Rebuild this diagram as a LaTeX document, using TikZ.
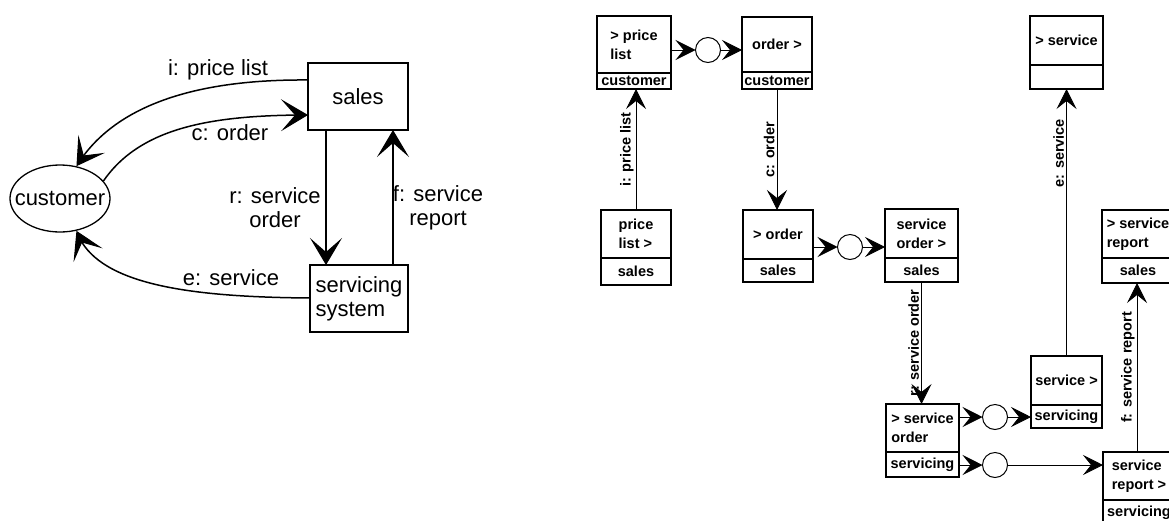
\documentclass[tikz,border=0pt]{standalone}
\usepackage{fontspec}
\setmainfont{Liberation Sans}
\usetikzlibrary{arrows.meta,bending,shapes.geometric}

\newcommand\lfont{\fontsize{22}{24}\selectfont}
\newcommand\rfont{\fontsize{14.5}{19}\selectfont\bfseries}

% two-part activity box: #1 name, #2 x, #3 y (top left), #4 width,
% #5 upper height, #6 lower height, #7 upper text, #8 lower text
\newcommand\ActBox[8]{%
  \node[rpart, minimum width=#4pt, minimum height=#5pt] (#1) at (#2,#3) {#7};
  \node[rpart, minimum width=#4pt, minimum height=#6pt] (#1b) at (#1.south west) {#8};
}

\begin{document}
\begin{tikzpicture}[x=1pt,y=-1pt,
  lbox/.style={draw, line width=1.3pt, inner sep=0pt, outer sep=0pt, font=\lfont},
  ltext/.style={font=\lfont, inner sep=1pt},
  larrow/.style={line width=1.5pt, -{Stealth[length=27pt,width=32pt,inset=14pt,line width=1pt]}},
  rpart/.style={draw, line width=1.4pt, anchor=north west, inner sep=1pt, outer sep=0pt,
    align=left, font=\rfont},
  rcirc/.style={draw, circle, line width=1pt, minimum size=25pt, inner sep=0pt, outer sep=0pt},
  rarrow/.style={line width=1pt, -{Stealth[length=20pt,width=20pt,inset=8pt,line width=0.8pt]}},
  rlab/.style={font=\rfont, rotate=90, anchor=south, inner sep=2pt}]
\useasboundingbox (0,0) rectangle (1169,520);

% ---------- context diagram ----------
\node[lbox, minimum width=100pt, minimum height=67pt, anchor=north west] (sales) at (308,63) {sales};
\node[lbox, minimum width=98pt, minimum height=67pt, anchor=north west, align=left] (svc) at (310,265) {servicing\\system};
\node[draw, ellipse, line width=1.3pt, minimum width=100pt, minimum height=67pt, inner sep=0pt] (cust) at (60,198.5) {};
\node[ltext] (custtext) at (cust.center) {customer};

\draw[larrow] ([yshift=-17pt]sales.north west) .. controls (190,79) and (112,108) .. (cust.63);
\draw[larrow] (cust.22) .. controls (140,128) and (210,115) .. ([yshift=-52pt]sales.north west);
\draw[larrow] ([yshift=-33pt]svc.north west) .. controls (190,297) and (95,285) .. (cust.-63);
\draw[larrow] ([xshift=-32pt]sales.south) -- ([xshift=-32pt]sales.south |- svc.north);
\draw[larrow] ([xshift=35pt]sales.south |- svc.north) -- ([xshift=35pt]sales.south);

\node[ltext] (labi) at (218,70) {i: price list};
\node[ltext] (labc) at (230,133) {c: order};
\node[ltext] (labe) at (231,278) {e: service};
\node[ltext, align=center] (labr) at (275,208) {r: service\\order};
\node[ltext, align=center] (labf) at (438,208) {f: service\\report};

% ---------- interaction diagram ----------
\ActBox{A}{597}{16}{74}{57}{16}{> price\\list}{customer}
\ActBox{B}{742}{17}{70}{55}{17}{order >}{customer}
\ActBox{C}{601}{210}{70}{48}{27}{price\\list >}{sales}
\ActBox{D}{743}{210}{70}{49}{23}{> order}{sales}
\ActBox{E}{885}{209}{73}{49}{24}{service\\order >}{sales}
\ActBox{F}{886}{404}{73}{48}{25}{> service\\order}{servicing}
\ActBox{G}{1031}{356}{71}{49}{23}{service >}{servicing}
\ActBox{H}{1030}{16}{73}{49}{24}{> service}{}
\ActBox{I}{1103}{452}{72}{48}{26}{service\\report >}{servicing}
\ActBox{J}{1102}{210}{72}{48}{25}{> service\\report}{sales}

\node[rcirc] (c1) at (708,50) {};
\node[rcirc] (c2) at (850,247) {};
\node[rcirc] (c3) at (995,417) {};
\node[rcirc] (c4) at (995,465) {};

\draw[rarrow] (c1.west -| A.east) -- (c1.west);
\draw[rarrow] (c1.east) -- (c1.east -| B.west);
\draw[rarrow] (c2.west -| D.east) -- (c2.west);
\draw[rarrow] (c2.east) -- (c2.east -| E.west);
\draw[rarrow] (c3.west -| F.east) -- (c3.west);
\draw[rarrow] (c3.east) -- (c3.east -| G.west);
\draw[rarrow] (c4.west -| Fb.east) -- (c4.west);
\draw[rarrow] (c4.east) -- (c4.east -| I.west);

\draw[rarrow] (C.north) -- (C.north |- Ab.south) node[rlab, midway] {i: price list};
\draw[rarrow] (Bb.south) -- (Bb.south |- D.north) node[rlab, midway] {c: order};
\draw[rarrow] (Eb.south) -- (Eb.south |- F.north) node[rlab, midway] {r: service order};
\draw[rarrow] (G.north) -- (G.north |- Hb.south) node[rlab, pos=0.76] {e: service};
\draw[rarrow] ([xshift=-2pt]I.north) -- ([xshift=-2pt]I.north |- Jb.south) node[rlab, midway] {f: service report};
\end{tikzpicture}
\end{document}
